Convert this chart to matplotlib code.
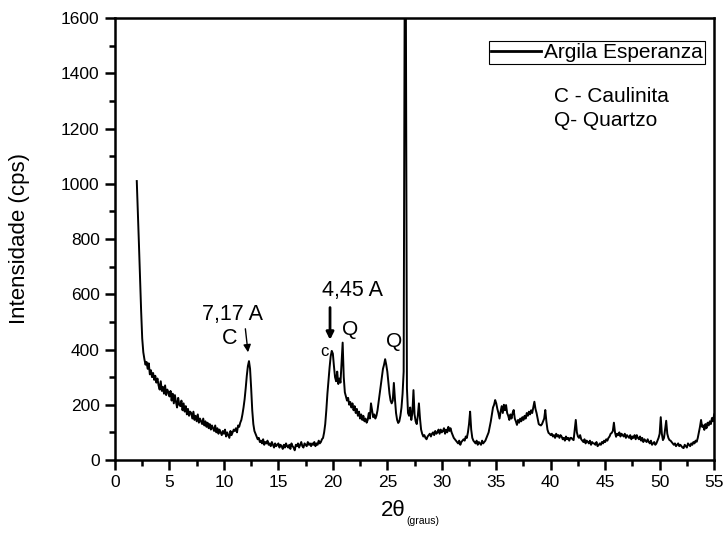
import matplotlib
matplotlib.use('Agg')
import matplotlib.pyplot as plt
from matplotlib.ticker import MultipleLocator
import numpy as np

plt.rcParams['font.family'] = ['Liberation Sans', 'DejaVu Sans']

# 2theta grid of the scan (step 0.1 deg) and intensity, one row per degree
two_theta = np.round(np.arange(2.0, 55.05, 0.1), 1)
intensity = [
    1010, 900, 780, 660, 540, 440, 390, 365, 345, 355,   # 2
    330, 350, 310, 325, 300, 315, 290, 305, 280, 295,    # 3
    270, 255, 285, 250, 265, 240, 270, 235, 255, 245,    # 4
    230, 250, 215, 240, 205, 235, 210, 190, 225, 200,    # 5
    195, 215, 180, 205, 175, 195, 165, 185, 160, 175,    # 6
    170, 150, 175, 145, 160, 140, 165, 135, 150, 140,    # 7
    130, 150, 125, 140, 120, 135, 115, 130, 110, 125,    # 8
    115, 105, 125, 100, 115, 95, 110, 100, 90, 105,      # 9
    95, 110, 85, 100, 90, 80, 105, 90, 100, 110,         # 10
    105, 115, 100, 125, 120, 135, 145, 165, 190, 220,    # 11
    260, 305, 340, 358, 330, 260, 180, 130, 105, 95,     # 12
    85, 75, 80, 65, 70, 60, 75, 55, 65, 60,              # 13
    70, 55, 60, 50, 65, 55, 45, 60, 50, 55,              # 14
    60, 45, 55, 50, 40, 55, 45, 60, 50, 45,              # 15
    55, 40, 60, 50, 45, 35, 55, 50, 60, 45,              # 16
    55, 65, 50, 45, 60, 55, 50, 65, 55, 60,              # 17
    50, 60, 55, 65, 50, 60, 55, 70, 60, 65,              # 18
    75, 80, 100, 130, 180, 240, 290, 335, 375, 395,      # 19
    385, 340, 300, 285, 320, 275, 295, 280, 350, 425,    # 20
    300, 245, 230, 215, 225, 200, 210, 190, 205, 180,    # 21
    195, 170, 185, 160, 175, 150, 165, 145, 160, 140,    # 22
    150, 135, 145, 170, 150, 205, 180, 155, 165, 150,    # 23
    160, 180, 210, 240, 270, 300, 330, 345, 365, 345,    # 24
    320, 280, 240, 215, 205, 215, 279, 220, 170, 145,    # 25
    134, 140, 160, 190, 240, 320, 1800, 1700, 260, 170,  # 26
    160, 190, 145, 170, 253, 165, 140, 130, 160, 205,    # 27
    150, 110, 95, 85, 90, 80, 75, 85, 90, 95,            # 28
    85, 95, 100, 90, 105, 95, 100, 110, 95, 110,         # 29
    100, 105, 115, 95, 110, 100, 120, 105, 115, 100,     # 30
    90, 80, 75, 70, 65, 60, 70, 55, 65, 70,              # 31
    75, 70, 85, 80, 100, 130, 175, 110, 80, 70,          # 32
    65, 60, 70, 55, 65, 60, 55, 70, 60, 65,              # 33
    70, 80, 90, 100, 120, 140, 165, 190, 200, 217,       # 34
    205, 185, 170, 150, 175, 195, 170, 200, 180, 199,    # 35
    170, 160, 145, 165, 150, 170, 181, 150, 140, 127,    # 36
    145, 135, 150, 140, 155, 145, 160, 150, 170, 160,    # 37
    175, 165, 180, 170, 190, 211, 185, 170, 150, 130,    # 38
    127, 125, 130, 140, 150, 181, 140, 110, 98, 95,      # 39
    90, 95, 85, 90, 80, 95, 85, 90, 80, 90,              # 40
    85, 75, 80, 70, 85, 75, 80, 70, 80, 80,              # 41
    75, 72, 110, 145, 100, 85, 80, 90, 75, 70,           # 42
    65, 75, 60, 70, 66, 60, 70, 55, 65, 60,              # 43
    60, 55, 65, 50, 54, 60, 55, 65, 60, 70,              # 44
    65, 75, 70, 80, 85, 95, 98, 105, 135, 100,           # 45
    84, 95, 90, 100, 85, 95, 90, 85, 95, 80,             # 46
    90, 85, 80, 90, 75, 85, 80, 90, 75, 90,              # 47
    80, 75, 85, 70, 80, 65, 75, 70, 65, 75,              # 48
    65, 60, 70, 55, 60, 65, 55, 60, 70, 80,              # 49
    95, 155, 95, 72, 80, 110, 142, 95, 80, 72,           # 50
    70, 65, 60, 55, 60, 50, 55, 60, 50, 55,              # 51
    50, 45, 43, 55, 50, 45, 60, 55, 50, 60,              # 52
    55, 65, 60, 70, 66, 80, 100, 120, 145, 120,          # 53
    125, 109, 130, 115, 135, 125, 140, 130, 152, 140,    # 54
    165,                                                 # 55
]

fig = plt.figure(figsize=(7.25, 5.33), dpi=100)
ax = fig.add_axes([0.1586, 0.137, 0.8264, 0.829])

ax.plot(two_theta, intensity, color='black', lw=1.4, label='Argila Esperanza')

ax.set_xlim(0, 55)
ax.set_ylim(0, 1600)
ax.xaxis.set_major_locator(MultipleLocator(5))
ax.xaxis.set_minor_locator(MultipleLocator(2.5))
ax.yaxis.set_major_locator(MultipleLocator(200))
ax.yaxis.set_minor_locator(MultipleLocator(100))
ax.tick_params(which='major', direction='out', length=7, width=1.8, labelsize=12.5, pad=4)
ax.tick_params(which='minor', direction='out', length=4, width=1.8)
for s in ax.spines.values():
    s.set_linewidth(1.8)

# axis titles
fig.text(20 / 725, 1 - 239 / 533, 'Intensidade (cps)', rotation=90,
         ha='center', va='center', fontsize=16)
fig.text(406 / 725, 1 - 510 / 533, '2θ', ha='right', va='center', fontsize=16)
fig.text(406 / 725, 1 - 521 / 533, '(graus)', ha='left', va='center', fontsize=7.5)

# peak labels
ax.text(10.75, 525, '7,17 A', ha='center', va='center', fontsize=15.5)
ax.text(10.55, 440, 'C', ha='center', va='center', fontsize=15.5)
ax.annotate('', xy=(12.24, 380), xytext=(11.94, 485),
            arrowprops=dict(arrowstyle='-|>', color='black', lw=1, mutation_scale=11))
ax.text(21.8, 612, '4,45 A', ha='center', va='center', fontsize=15.5)
ax.annotate('', xy=(19.74, 425), xytext=(19.74, 562),
            arrowprops=dict(arrowstyle='-|>', color='black', lw=2, mutation_scale=11))
ax.text(19.2, 393, 'c', ha='center', va='center', fontsize=12)
ax.text(21.6, 471, 'Q', ha='center', va='center', fontsize=15)
ax.text(25.6, 429, 'Q', ha='center', va='center', fontsize=15)

ax.text(40.3, 1315, 'C - Caulinita', ha='left', va='center', fontsize=15)
ax.text(40.3, 1230, 'Q- Quartzo', ha='left', va='center', fontsize=15)

leg = ax.legend(loc='upper right', bbox_to_anchor=(0.985, 0.948), fontsize=15,
                frameon=True, fancybox=False, edgecolor='black', framealpha=1,
                handlelength=2.4, borderpad=0.1, borderaxespad=0, handletextpad=0.15)
leg.get_frame().set_linewidth(0.8)
leg.get_lines()[0].set_linewidth(2)

fig.savefig('out.png', dpi=100)
